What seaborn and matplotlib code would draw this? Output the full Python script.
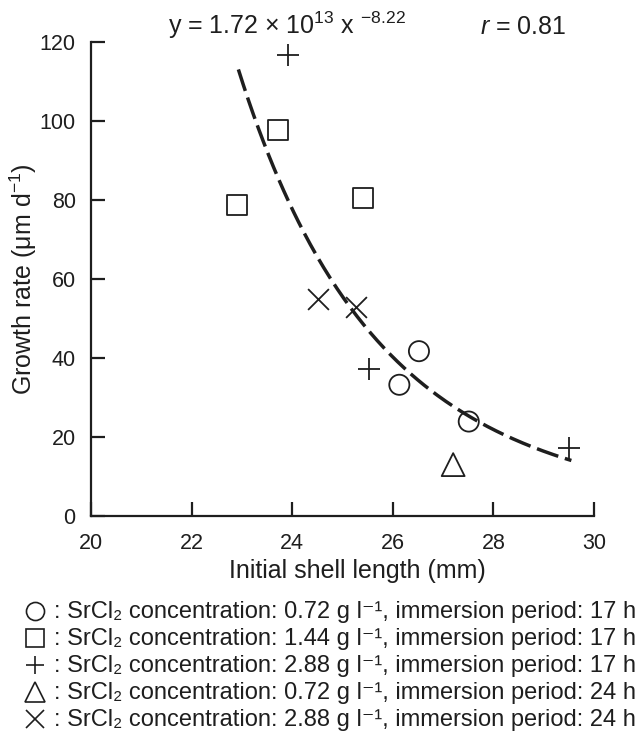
import numpy as np
import pandas as pd
import matplotlib
matplotlib.use("Agg")
import matplotlib.pyplot as plt
from matplotlib.lines import Line2D
import seaborn as sns

# ---- data ----
circle_x = [26.13, 26.52, 27.51]
circle_y = [33.2, 41.7, 23.9]
square_x = [22.91, 23.71, 25.41]
square_y = [78.6, 97.6, 80.4]
plus_x = [23.91, 25.52, 29.51]
plus_y = [116.7, 37.2, 17.3]
triangle_x = [27.2]
triangle_y = [13.0]
cross_x = [24.52, 25.26]
cross_y = [54.8, 53.0]

group_labels = [
    ": SrCl\u2082 concentration: 0.72 g l\u207b\u00b9, immersion period: 17 h",
    ": SrCl\u2082 concentration: 1.44 g l\u207b\u00b9, immersion period: 17 h",
    ": SrCl\u2082 concentration: 2.88 g l\u207b\u00b9, immersion period: 17 h",
    ": SrCl\u2082 concentration: 0.72 g l\u207b\u00b9, immersion period: 24 h",
    ": SrCl\u2082 concentration: 2.88 g l\u207b\u00b9, immersion period: 24 h",
]
group_markers = ["o", "s", "+", "^", "x"]

# fitted power curve y = a x^b
fit_a = 1.72e13
fit_b = -8.22
fit_xmin, fit_xmax = 22.93, 29.55

x_ticks = [20, 22, 24, 26, 28, 30]
y_ticks = [0, 20, 40, 60, 80, 100, 120]

# ---- style ----
sns.set_theme(style="ticks")
plt.rcParams["font.family"] = ["Liberation Sans", "DejaVu Sans"]
plt.rcParams["mathtext.fontset"] = "custom"
plt.rcParams["mathtext.rm"] = "Liberation Sans"
plt.rcParams["mathtext.it"] = "Liberation Sans:italic"
plt.rcParams["mathtext.bf"] = "Liberation Sans:bold"
plt.rcParams["axes.unicode_minus"] = False

INK = "#1e1e1e"
W, H = 638, 749
fig = plt.figure(figsize=(W / 100, H / 100), dpi=100)
ax = fig.add_axes([91 / W, 1 - 516 / H, (594 - 91) / W, (516 - 41.7) / H])

xs = [circle_x, square_x, plus_x, triangle_x, cross_x]
ys = [circle_y, square_y, plus_y, triangle_y, cross_y]
sizes = [14.5, 14.5, 15.5, 16.5, 15.0]

for gx, gy, mk, ms in zip(xs, ys, group_markers, sizes):
    df = pd.DataFrame({"x": gx, "y": gy})
    if mk in ("+", "x"):
        sns.scatterplot(data=df, x="x", y="y", marker=mk, color=INK,
                        s=ms ** 2, linewidth=1.3, ax=ax, zorder=3)
    else:
        sns.scatterplot(data=df, x="x", y="y", marker=mk, color=INK,
                        facecolor="none", edgecolor=INK,
                        s=ms ** 2, linewidth=1.3, ax=ax, zorder=3)

cx = np.linspace(fit_xmin, fit_xmax, 200)
cy = fit_a * cx ** fit_b
sns.lineplot(x=cx, y=cy, ax=ax, color=INK, linewidth=2.5,
             linestyle=(0, (6.5, 2.0)), zorder=2)

ax.set_xlim(20, 30)
ax.set_ylim(0, 120)
ax.set_xticks(x_ticks)
ax.set_yticks(y_ticks)
ax.spines["top"].set_visible(False)
ax.spines["right"].set_visible(False)
for sp in ("left", "bottom"):
    ax.spines[sp].set_linewidth(1.6)
    ax.spines[sp].set_color(INK)
ax.tick_params(direction="in", length=10, width=1.6, labelsize=15.5,
               colors=INK)
ax.tick_params(axis="y", pad=11)
ax.tick_params(axis="x", pad=12)
ax.set_xlabel("Initial shell length (mm)", fontsize=18, color=INK)
ax.set_ylabel("Growth rate (μm d$^{-1}$)", fontsize=18, color=INK)
ax.xaxis.set_label_coords((357 - 91) / (594 - 91), -(578 - 516) / (516 - 41.7))
ax.yaxis.set_label_coords(-(91 - 23) / (594 - 91), 0.5)
ax.xaxis.label.set_va("baseline")
ax.yaxis.label.set_va("center")

fig.text(168 / W, 1 - 34 / H, "y = 1.72 × 10$^{13}$ x $^{-8.22}$",
         fontsize=18, ha="left", va="baseline", color=INK)
fig.text(480 / W, 1 - 34 / H, "$r$ = 0.81", fontsize=18, ha="left",
         va="baseline", color=INK)

# legend below the axes: marker + explanatory text for each group
row0, row_step = 618, 27.0
for i, (mk, lab) in enumerate(zip(group_markers, group_labels)):
    yb = row0 + i * row_step
    fig.text(54 / W, 1 - yb / H, lab, fontsize=17, ha="left",
             va="baseline", color=INK)
    fig.add_artist(Line2D([35 / W], [1 - (yb - 7.5) / H],
                          transform=fig.transFigure, linestyle="none",
                          marker=mk, markersize=13 if mk != "^" else 14,
                          markerfacecolor="none", markeredgecolor=INK,
                          markeredgewidth=1.2, color=INK))

fig.savefig("out.png", dpi=100)
